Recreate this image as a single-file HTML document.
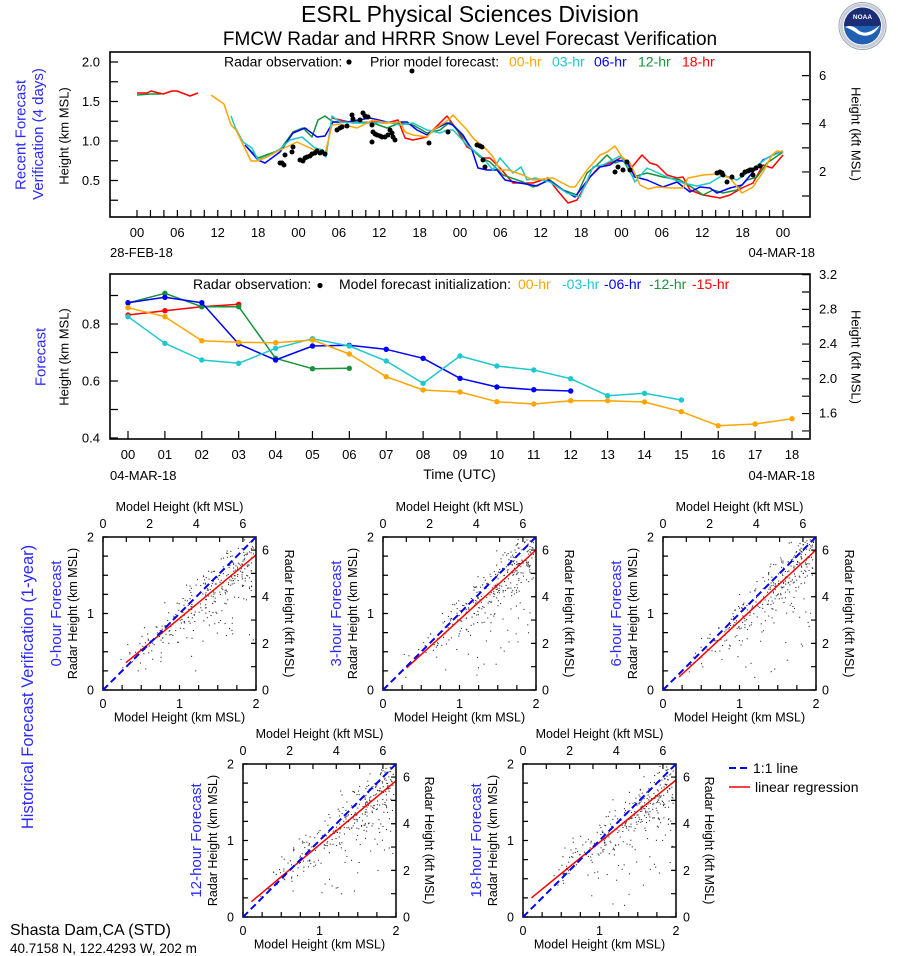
<!DOCTYPE html>
<html><head><meta charset="utf-8"><style>
html,body{margin:0;padding:0;background:#fff;}
svg{display:block;}
text{font-family:"Liberation Sans",Arial,sans-serif;}
</style></head><body>
<svg id="S" width="898" height="956" viewBox="0 0 898 956" xmlns="http://www.w3.org/2000/svg">
<defs>
<marker id="mo" markerWidth="6" markerHeight="6" refX="3" refY="3" markerUnits="userSpaceOnUse"><circle cx="3" cy="3" r="2.7" fill="#ffa500"/></marker>
<marker id="mc" markerWidth="6" markerHeight="6" refX="3" refY="3" markerUnits="userSpaceOnUse"><circle cx="3" cy="3" r="2.7" fill="#1ec8cc"/></marker>
<marker id="mb" markerWidth="6" markerHeight="6" refX="3" refY="3" markerUnits="userSpaceOnUse"><circle cx="3" cy="3" r="2.7" fill="#0000ff"/></marker>
<marker id="mg" markerWidth="6" markerHeight="6" refX="3" refY="3" markerUnits="userSpaceOnUse"><circle cx="3" cy="3" r="2.7" fill="#17913a"/></marker>
<marker id="mr" markerWidth="6" markerHeight="6" refX="3" refY="3" markerUnits="userSpaceOnUse"><circle cx="3" cy="3" r="2.7" fill="#ff0000"/></marker>
<g id="sp">
<rect x="0" y="0" width="153" height="153" fill="none" stroke="#000" stroke-width="1.5"/>
<g stroke="#000">
<line x1="-0.6" y1="150.5" x2="154" y2="150.5" stroke-width="5" stroke-dasharray="1.2 17.925"/>
<line x1="2.5" y1="-0.6" x2="2.5" y2="154" stroke-width="5" stroke-dasharray="1.2 17.925"/>
<line x1="-0.6" y1="2.5" x2="141" y2="2.5" stroke-width="5" stroke-dasharray="1.2 22.12"/>
<line x1="150.5" y1="153.6" x2="150.5" y2="12" stroke-width="5" stroke-dasharray="1.2 22.12"/>
</g>
<line x1="0" y1="153" x2="153" y2="0" stroke="#0000ff" stroke-width="2" stroke-dasharray="7 4"/>
</g>
</defs>

<text x="470" y="22" font-size="23" text-anchor="middle" fill="#000">ESRL Physical Sciences Division</text>
<text x="470" y="45" font-size="19" text-anchor="middle" fill="#000">FMCW Radar and HRRR Snow Level Forecast Verification</text>

<g>
<circle cx="862.5" cy="26" r="23.5" fill="#fff" stroke="#9aa3b5" stroke-width="1"/>
<circle cx="862.5" cy="26" r="21" fill="none" stroke="#c7ccd8" stroke-width="3"/>
<circle cx="862.5" cy="26" r="18.5" fill="#1f5fb4"/>
<path d="M844 26 A18.5 18.5 0 0 1 881 26 Z" fill="#1b2d74"/>
<path d="M845 27 Q852 24 858 30 Q866 37 880 25 Q872 40 858 34 Q851 29 845 27 Z" fill="#fff"/>
<text x="862.5" y="19" font-size="6.5" font-weight="bold" text-anchor="middle" fill="#fff">NOAA</text>
</g>

<text transform="translate(25.7,135) rotate(-90)" font-size="15" text-anchor="middle" fill="#2a2aff">Recent Forecast</text>
<text transform="translate(43,134) rotate(-90)" font-size="15" text-anchor="middle" fill="#2a2aff">Verification (4 days)</text>
<text transform="translate(68.6,136) rotate(-90)" font-size="13" text-anchor="middle" fill="#000">Height (km MSL)</text>
<text transform="translate(851.7,134) rotate(90)" font-size="13" text-anchor="middle" fill="#000">Height (kft MSL)</text>

<g stroke="#000" fill="none">
<line x1="114" y1="61.4" x2="114" y2="202" stroke-width="8" stroke-dasharray="1.2 18.55"/>
<line x1="805.5" y1="75" x2="805.5" y2="197" stroke-width="7" stroke-dasharray="1.2 22.88"/>
<line x1="136.4" y1="213.5" x2="784" y2="213.5" stroke-width="7" stroke-dasharray="1.2 12.258"/>
</g>

<g font-size="13" fill="#000" text-anchor="end">
<text x="100" y="66.5">2.0</text><text x="100" y="106">1.5</text><text x="100" y="145.5">1.0</text><text x="100" y="185">0.5</text>
</g>
<g font-size="13" fill="#000">
<text x="819" y="80">6</text><text x="819" y="128">4</text><text x="819" y="176">2</text>
</g>
<g font-size="13" fill="#000" text-anchor="middle">
<text x="137" y="237">00</text><text x="177.4" y="237">06</text><text x="217.7" y="237">12</text><text x="258.1" y="237">18</text>
<text x="298.5" y="237">00</text><text x="338.9" y="237">06</text><text x="379.2" y="237">12</text><text x="419.6" y="237">18</text>
<text x="460" y="237">00</text><text x="500.4" y="237">06</text><text x="540.7" y="237">12</text><text x="581.1" y="237">18</text>
<text x="621.5" y="237">00</text><text x="661.9" y="237">06</text><text x="702.2" y="237">12</text><text x="742.6" y="237">18</text>
<text x="783" y="237">00</text>
</g>
<text x="110" y="257" font-size="13" fill="#000">28-FEB-18</text>
<text x="815" y="257" font-size="13" fill="#000" text-anchor="end">04-MAR-18</text>

<g font-size="14">
<text x="224" y="66.5" fill="#000">Radar observation:</text>
<circle cx="349" cy="62" r="2.6" fill="#000"/>
<text x="370" y="66.5" fill="#000">Prior model forecast:</text>
<text x="509" y="66.5" fill="#ffa500">00-hr</text>
<text x="552" y="66.5" fill="#1ec8cc">03-hr</text>
<text x="594" y="66.5" fill="#0000ff">06-hr</text>
<text x="638" y="66.5" fill="#17913a">12-hr</text>
<text x="682" y="66.5" fill="#ff0000">18-hr</text>
</g>

<g fill="none" stroke-width="1.5" stroke-linejoin="round">
<polyline stroke="#17913a" points="137,95 151,94 161,94"/>
<polyline stroke="#ff0000" points="137,93 147,93 151,91 163,94 172,91 177,91 190,96 198,93"/>
<polyline stroke="#ff0000" points="332,118 353,123 373,122 387,123 398,120 405,138 413,140 427,137 433,130 447,116 457,130 467,147 473,150 483,158 490,158 500,168 513,183 533,183 548,178 557,190 568,203 577,200 590,177 600,166 613,162 622,157 632,167 642,155 650,163 657,165 667,175 677,178 683,177 690,190 703,195 720,198 730,195 742,188 753,183 763,165 772,168 783,155"/>
<polyline stroke="#17913a" points="247,147 258,158 280,150 293,132 303,128 312,137 318,120 325,116 333,122 357,122 373,123 387,128 400,123 413,125 427,133 440,130 450,122 463,137 473,150 480,157 490,162 503,175 523,182 533,187 550,180 563,190 577,195 587,173 597,165 607,155 615,163 623,160 633,177 647,173 663,177 680,180 693,188 703,195 713,190 723,193 737,190 747,180 757,177 767,163 783,152"/>
<polyline stroke="#0000ff" points="245,145 258,160 265,163 280,152 293,133 305,128 317,137 325,136 333,122 347,122 370,118 387,122 393,123 400,122 407,122 417,130 427,135 433,130 447,123 453,125 463,135 472,150 478,168 487,170 497,170 505,180 520,183 537,186 548,180 563,190 575,197 590,177 600,167 610,165 617,160 627,162 635,177 647,180 663,187 677,182 690,192 700,187 710,188 717,193 730,188 742,185 753,172 763,160 773,155 783,151"/>
<polyline stroke="#1ec8cc" points="231,116 235,127 243,142 252,148 258,160 270,155 280,149 290,140 302,137 315,148 323,150 326,157 332,116 340,122 357,123 373,123 387,122 400,125 413,123 427,130 440,133 447,130 453,130 467,145 477,153 483,158 493,170 500,158 513,173 521,167 527,180 535,178 550,182 567,193 580,197 593,167 603,165 620,156 627,165 635,182 647,168 667,177 683,183 697,186 710,183 723,175 737,180 747,173 767,158 783,151"/>
<polyline stroke="#ffa500" points="211,95 224,104 231,125 236,130 251,161 257,161 267,157 280,150 297,142 310,148 318,152 325,154 332,125 340,124 357,128 367,123 373,120 387,123 400,122 405,132 413,135 427,137 433,130 447,121 453,115 467,130 473,138 487,150 493,157 500,170 508,170 523,175 533,180 553,178 570,187 575,187 587,170 600,155 607,152 615,146 622,157 630,163 640,185 648,189 657,187 670,188 683,188 688,178 703,175 717,174 730,178 742,193 753,187 763,172 772,155 777,151 783,152"/>
</g>
<g fill="#000" id="obs"></g>

<rect x="110" y="52" width="700" height="165" fill="none" stroke="#000" stroke-width="1.6"/>

<text transform="translate(45.7,357) rotate(-90)" font-size="15" text-anchor="middle" fill="#2a2aff">Forecast</text>
<text transform="translate(68.6,357) rotate(-90)" font-size="13" text-anchor="middle" fill="#000">Height (km MSL)</text>
<text transform="translate(851.7,357) rotate(90)" font-size="13" text-anchor="middle" fill="#000">Height (kft MSL)</text>

<g stroke="#000" fill="none">
<line x1="114" y1="294.9" x2="114" y2="440" stroke-width="8" stroke-dasharray="1.2 27.3"/>
<line x1="805.5" y1="274" x2="805.5" y2="432" stroke-width="7" stroke-dasharray="1.2 16.17"/>
<line x1="127.4" y1="435" x2="793" y2="435" stroke-width="8" stroke-dasharray="1.2 35.69"/>
</g>
<g font-size="13" fill="#000" text-anchor="end">
<text x="100" y="328.5">0.8</text><text x="100" y="385.5">0.6</text><text x="100" y="442.5">0.4</text>
</g>
<g font-size="13" fill="#000">
<text x="819" y="279">3.2</text><text x="819" y="313.3">2.8</text><text x="819" y="348">2.4</text><text x="819" y="382.8">2.0</text><text x="819" y="417.5">1.6</text>
</g>
<g font-size="13" fill="#000" text-anchor="middle">
<text x="128" y="459">00</text><text x="164.9" y="459">01</text><text x="201.8" y="459">02</text><text x="238.7" y="459">03</text>
<text x="275.6" y="459">04</text><text x="312.5" y="459">05</text><text x="349.3" y="459">06</text><text x="386.2" y="459">07</text>
<text x="423.1" y="459">08</text><text x="460" y="459">09</text><text x="496.9" y="459">10</text><text x="533.8" y="459">11</text>
<text x="570.7" y="459">12</text><text x="607.6" y="459">13</text><text x="644.5" y="459">14</text><text x="681.4" y="459">15</text>
<text x="718.2" y="459">16</text><text x="755.1" y="459">17</text><text x="792" y="459">18</text>
</g>
<text x="110" y="480" font-size="13" fill="#000">04-MAR-18</text>
<text x="459.5" y="479" font-size="14" fill="#000" text-anchor="middle">Time (UTC)</text>
<text x="815" y="480" font-size="13" fill="#000" text-anchor="end">04-MAR-18</text>

<g font-size="14">
<text x="193" y="289" fill="#000">Radar observation:</text>
<circle cx="320" cy="285.5" r="2.6" fill="#000"/>
<text x="339" y="289" fill="#000">Model forecast initialization:</text>
<text x="518" y="289" fill="#ffa500">00-hr</text>
<text x="562" y="289" fill="#1ec8cc">-03-hr</text>
<text x="604" y="289" fill="#0000ff">-06-hr</text>
<text x="649" y="289" fill="#17913a">-12-hr</text>
<text x="692" y="289" fill="#ff0000">-15-hr</text>
</g>

<g fill="none" stroke-width="1.5" stroke-linejoin="round">
<polyline stroke="#ff0000" marker-start="url(#mr)" marker-mid="url(#mr)" marker-end="url(#mr)" points="128,315 164.9,310.7 201.8,306.7 238.7,304.3"/>
<polyline stroke="#17913a" marker-start="url(#mg)" marker-mid="url(#mg)" marker-end="url(#mg)" points="128,303 164.9,293.3 201.8,306.7 238.7,306.7 275.6,358.3 312.5,368.7 349.3,368.3"/>
<polyline stroke="#0000ff" marker-start="url(#mb)" marker-mid="url(#mb)" marker-end="url(#mb)" points="128,302.7 164.9,297.3 201.8,302.7 238.7,344 275.6,360 312.5,346 349.3,345.3 386.2,349.3 423.1,358.3 460,378.3 496.9,387 533.8,389.7 570.7,391"/>
<polyline stroke="#1ec8cc" marker-start="url(#mc)" marker-mid="url(#mc)" marker-end="url(#mc)" points="128,316.7 164.9,343.3 201.8,360 238.7,363.3 275.6,348.3 312.5,338.7 349.3,346 386.2,361 423.1,383.3 460,356 496.9,366 533.8,370 570.7,378.7 607.6,395.7 644.5,393.3 681.4,400"/>
<polyline stroke="#ffa500" marker-start="url(#mo)" marker-mid="url(#mo)" marker-end="url(#mo)" points="128,307.7 164.9,316.7 201.8,340.7 238.7,342.3 275.6,342.7 312.5,340 349.3,354 386.2,376.7 423.1,390 460,392 496.9,401.7 533.8,404 570.7,400.7 607.6,400.7 644.5,402 681.4,411.7 718.2,425.7 755.1,424 792,418.7"/>
</g>
<rect x="110" y="274" width="700" height="165" fill="none" stroke="#000" stroke-width="1.6"/>

<text transform="translate(33,687) rotate(-90)" font-size="16.5" text-anchor="middle" fill="#2a2aff">Historical Forecast Verification (1-year)</text>

<g id="dots" fill="#333"></g>

<line x1="125.95" y1="662.7" x2="256" y2="555" stroke="#ff0000" stroke-width="1.5"/>
<use href="#sp" x="103" y="537"/>
<line x1="406.7" y1="667.8" x2="536" y2="550" stroke="#ff0000" stroke-width="1.5"/>
<use href="#sp" x="383" y="537"/>
<line x1="679.1" y1="677" x2="816" y2="550" stroke="#ff0000" stroke-width="1.5"/>
<use href="#sp" x="663" y="537"/>
<line x1="251.4" y1="901.7" x2="396" y2="780.8" stroke="#ff0000" stroke-width="1.5"/>
<use href="#sp" x="243" y="764"/>
<line x1="531.4" y1="897.9" x2="676" y2="780" stroke="#ff0000" stroke-width="1.5"/>
<use href="#sp" x="523" y="764"/>

<g font-size="12.5" fill="#000">
<text x="179.5" y="511" text-anchor="middle">Model Height (kft MSL)</text>
<g text-anchor="middle"><text x="103" y="528">0</text><text x="149.6" y="528">2</text><text x="196.3" y="528">4</text><text x="242.9" y="528">6</text></g>
<g text-anchor="end"><text x="94" y="541.5">2</text><text x="94" y="618">1</text><text x="94" y="694.5">0</text></g>
<g text-anchor="middle"><text x="103" y="708">0</text><text x="179.5" y="708">1</text><text x="256" y="708">2</text></g>
<text x="179.5" y="721.5" text-anchor="middle">Model Height (km MSL)</text>
<text x="262" y="554.6">6</text><text x="262" y="601.2">4</text><text x="262" y="647.9">2</text><text x="262" y="694.5">0</text>
<text transform="translate(285,613.5) rotate(90)" text-anchor="middle">Radar Height (kft MSL)</text>
<text transform="translate(77,613.5) rotate(-90)" text-anchor="middle">Radar Height (km MSL)</text>
</g>
<text transform="translate(61,613.5) rotate(-90)" font-size="15" text-anchor="middle" fill="#2a2aff">0-hour Forecast</text>

<g font-size="12.5" fill="#000">
<text x="459.5" y="511" text-anchor="middle">Model Height (kft MSL)</text>
<g text-anchor="middle"><text x="383" y="528">0</text><text x="429.6" y="528">2</text><text x="476.3" y="528">4</text><text x="522.9" y="528">6</text></g>
<g text-anchor="end"><text x="374" y="541.5">2</text><text x="374" y="618">1</text><text x="374" y="694.5">0</text></g>
<g text-anchor="middle"><text x="383" y="708">0</text><text x="459.5" y="708">1</text><text x="536" y="708">2</text></g>
<text x="459.5" y="721.5" text-anchor="middle">Model Height (km MSL)</text>
<text x="542" y="554.6">6</text><text x="542" y="601.2">4</text><text x="542" y="647.9">2</text><text x="542" y="694.5">0</text>
<text transform="translate(565,613.5) rotate(90)" text-anchor="middle">Radar Height (kft MSL)</text>
<text transform="translate(357,613.5) rotate(-90)" text-anchor="middle">Radar Height (km MSL)</text>
</g>
<text transform="translate(341,613.5) rotate(-90)" font-size="15" text-anchor="middle" fill="#2a2aff">3-hour Forecast</text>

<g font-size="12.5" fill="#000">
<text x="739.5" y="511" text-anchor="middle">Model Height (kft MSL)</text>
<g text-anchor="middle"><text x="663" y="528">0</text><text x="709.6" y="528">2</text><text x="756.3" y="528">4</text><text x="802.9" y="528">6</text></g>
<g text-anchor="end"><text x="654" y="541.5">2</text><text x="654" y="618">1</text><text x="654" y="694.5">0</text></g>
<g text-anchor="middle"><text x="663" y="708">0</text><text x="739.5" y="708">1</text><text x="816" y="708">2</text></g>
<text x="739.5" y="721.5" text-anchor="middle">Model Height (km MSL)</text>
<text x="822" y="554.6">6</text><text x="822" y="601.2">4</text><text x="822" y="647.9">2</text><text x="822" y="694.5">0</text>
<text transform="translate(845,613.5) rotate(90)" text-anchor="middle">Radar Height (kft MSL)</text>
<text transform="translate(637,613.5) rotate(-90)" text-anchor="middle">Radar Height (km MSL)</text>
</g>
<text transform="translate(621,613.5) rotate(-90)" font-size="15" text-anchor="middle" fill="#2a2aff">6-hour Forecast</text>

<g font-size="12.5" fill="#000">
<text x="319.5" y="738" text-anchor="middle">Model Height (kft MSL)</text>
<g text-anchor="middle"><text x="243" y="755">0</text><text x="289.6" y="755">2</text><text x="336.3" y="755">4</text><text x="382.9" y="755">6</text></g>
<g text-anchor="end"><text x="234" y="768.5">2</text><text x="234" y="845">1</text><text x="234" y="921.5">0</text></g>
<g text-anchor="middle"><text x="243" y="935">0</text><text x="319.5" y="935">1</text><text x="396" y="935">2</text></g>
<text x="319.5" y="948.5" text-anchor="middle">Model Height (km MSL)</text>
<text x="403" y="781.6">6</text><text x="403" y="828.2">4</text><text x="403" y="874.9">2</text><text x="403" y="921.5">0</text>
<text transform="translate(425,840.5) rotate(90)" text-anchor="middle">Radar Height (kft MSL)</text>
<text transform="translate(217,840.5) rotate(-90)" text-anchor="middle">Radar Height (km MSL)</text>
</g>
<text transform="translate(201,840.5) rotate(-90)" font-size="15" text-anchor="middle" fill="#2a2aff">12-hour Forecast</text>

<g font-size="12.5" fill="#000">
<text x="599.5" y="738" text-anchor="middle">Model Height (kft MSL)</text>
<g text-anchor="middle"><text x="523" y="755">0</text><text x="569.6" y="755">2</text><text x="616.3" y="755">4</text><text x="662.9" y="755">6</text></g>
<g text-anchor="end"><text x="514" y="768.5">2</text><text x="514" y="845">1</text><text x="514" y="921.5">0</text></g>
<g text-anchor="middle"><text x="523" y="935">0</text><text x="599.5" y="935">1</text><text x="676" y="935">2</text></g>
<text x="599.5" y="948.5" text-anchor="middle">Model Height (km MSL)</text>
<text x="683" y="781.6">6</text><text x="683" y="828.2">4</text><text x="683" y="874.9">2</text><text x="683" y="921.5">0</text>
<text transform="translate(705,840.5) rotate(90)" text-anchor="middle">Radar Height (kft MSL)</text>
<text transform="translate(497,840.5) rotate(-90)" text-anchor="middle">Radar Height (km MSL)</text>
</g>
<text transform="translate(481,840.5) rotate(-90)" font-size="15" text-anchor="middle" fill="#2a2aff">18-hour Forecast</text>

<line x1="729" y1="768" x2="750" y2="768" stroke="#0000ff" stroke-width="2" stroke-dasharray="7 4"/>
<text x="753" y="773" font-size="14" fill="#000">1:1 line</text>
<line x1="729" y1="787" x2="750" y2="787" stroke="#ff0000" stroke-width="1.5"/>
<text x="755" y="792" font-size="14" fill="#000">linear regression</text>

<text x="10" y="935" font-size="16" fill="#000">Shasta Dam,CA (STD)</text>
<text x="10" y="953" font-size="13.5" fill="#000">40.7158 N, 122.4293 W, 202 m</text>
</svg>
<script>
(function(){
var NS="http://www.w3.org/2000/svg";
var obs=[[282,163],[284,165],[280,163],[285,155],[292,152],[293,147],[300,160],[303,161],[305,158],[307,157],[310,156],[312,154],[315,153],[317,151],[320,153],[322,152],[325,154],[337,130],[340,128],[342,127],[347,126],[352,115],[353,119],[360,120],[363,113],[365,116],[368,117],[372,125],[373,132],[375,134],[377,135],[380,136],[382,137],[385,137],[388,135],[390,130],[393,137],[395,140],[372,142],[392,133],[429,143],[448,132],[477,145],[480,146],[482,147],[483,160],[485,167],[412,71],[615,172],[618,167],[623,170],[627,162],[630,170],[717,173],[720,172],[722,173],[723,175],[727,182],[732,177],[742,175],[745,172],[748,171],[750,170],[752,170],[753,175],[756,168],[760,166]];
var g=document.getElementById("obs");
obs.forEach(function(p){var c=document.createElementNS(NS,"circle");c.setAttribute("cx",p[0]);c.setAttribute("cy",p[1]);c.setAttribute("r","2.5");g.appendChild(c);});
var d=document.getElementById("dots");
var cfg=[[103,690,0.825,0.11,11],[383,690,0.9,0.02,22],[663,690,0.91,0.0,33],[243,917,0.83,0.13,44],[523,917,0.81,0.16,55]];
cfg.forEach(function(c){
 var s=c[4]*7919+13;
 function r(){s=(s*1664525+1013904223)>>>0;return s/4294967296;}
 function gs(){return Math.sqrt(-2*Math.log(r()+1e-9))*Math.cos(2*Math.PI*r());}
 for(var i=0;i<340;i++){
  var x=0.2+1.8*Math.sqrt(r());
  var y=c[2]*x+c[3]+gs()*0.15*(0.5+x*0.45);
  if(r()<0.08){y=c[2]*x+c[3]-(0.3+r()*0.8);}
  if(x>1.97)continue;
  if(y>1.97){if(r()<0.5)continue;y=1.82+r()*0.15;}
  if(y<0.15)continue;
  var e=document.createElementNS(NS,"rect");
  e.setAttribute("x",(c[0]+x*76.5-0.55).toFixed(1));
  e.setAttribute("y",(c[1]-y*76.5-0.55).toFixed(1));
  e.setAttribute("width","1.1");e.setAttribute("height","1.1");
  d.appendChild(e);
 }
});
})();
</script>
</body></html>
